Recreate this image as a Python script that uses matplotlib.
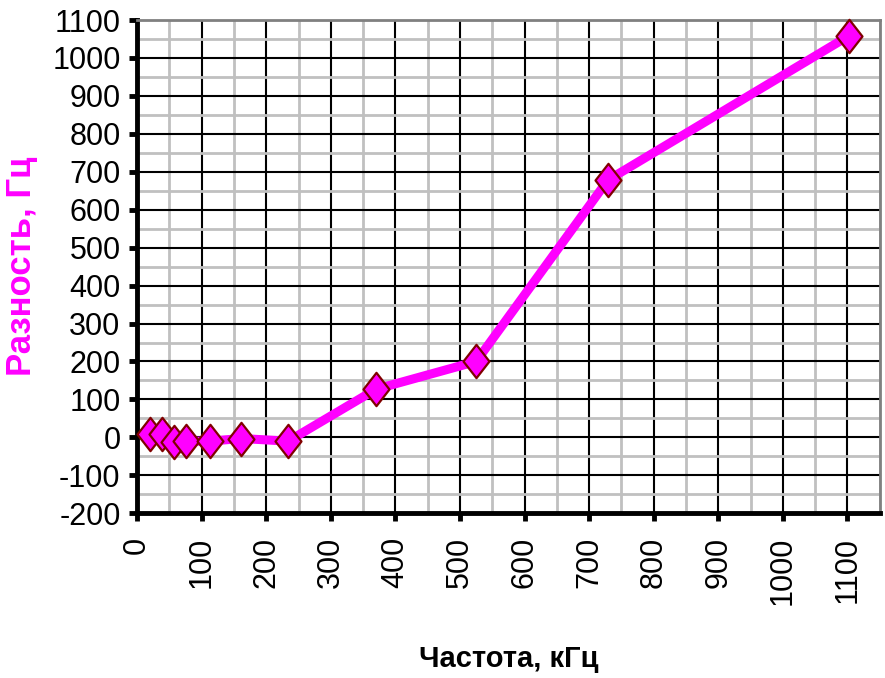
import matplotlib
matplotlib.use("Agg")
import matplotlib.pyplot as plt
from matplotlib.ticker import MultipleLocator
from matplotlib.path import Path
import numpy as np

# frequency (kHz) and difference (Hz)
freq_khz = [20, 38, 57, 75, 113, 161, 234, 370, 525, 729, 1102]
diff_hz = [10, 8, -12, -10, -10, -3, -10, 127, 200, 678, 1058]

x_ticks = np.arange(0, 1101, 100)
y_ticks = np.arange(-200, 1101, 100)

plt.rcParams['font.family'] = ['Liberation Sans', 'DejaVu Sans']
plt.rcParams['axes.unicode_minus'] = False

fig = plt.figure(figsize=(8.85, 6.78), dpi=100)
ax = fig.add_axes([0.155, 0.243, 0.839, 0.7275])

# tall diamond marker
diamond = Path([(0, 1), (0.78, 0), (0, -1), (-0.78, 0), (0, 1)],
               [Path.MOVETO, Path.LINETO, Path.LINETO, Path.LINETO, Path.CLOSEPOLY])

ax.plot(freq_khz, diff_hz, color='#ff00ff', lw=6.5, marker=diamond, ms=24,
        mfc='#ff00ff', mec='#800000', mew=1.6, zorder=5, clip_on=False)

ax.set_xlim(0, 1150)
ax.set_ylim(-200, 1100)
ax.set_xticks(x_ticks)
ax.set_yticks(y_ticks)
ax.xaxis.set_minor_locator(MultipleLocator(50))
ax.yaxis.set_minor_locator(MultipleLocator(50))

ax.grid(which='minor', color='#c0c0c0', lw=2.0, zorder=0)
ax.grid(which='major', color='black', lw=1.5, zorder=1)
ax.set_axisbelow(True)

for side in ('left', 'bottom'):
    ax.spines[side].set_linewidth(3.5)
    ax.spines[side].set_color('black')
for side in ('top', 'right'):
    ax.spines[side].set_linewidth(2.0)
    ax.spines[side].set_color('#808080')

ax.tick_params(which='major', direction='out', length=6, width=3.5)
ax.tick_params(which='minor', length=0)
ax.tick_params(axis='x', labelrotation=90, pad=11)
ax.tick_params(axis='y', pad=6)
for lbl in ax.get_xticklabels() + ax.get_yticklabels():
    lbl.set_family(['Liberation Sans Narrow', 'Liberation Sans'])
    lbl.set_fontsize(22)

ax.set_ylabel('Разность, Гц', color='#ff00ff', fontsize=25, fontweight='bold')
ax.yaxis.set_label_coords(-0.133, 0.5)
ax.set_xlabel('Частота, кГц', color='black', fontsize=21, fontweight='bold',
              family=['Liberation Sans Narrow', 'Liberation Sans'])
ax.xaxis.set_label_coords(0.5, -0.268)

fig.savefig('out.png', dpi=100)
